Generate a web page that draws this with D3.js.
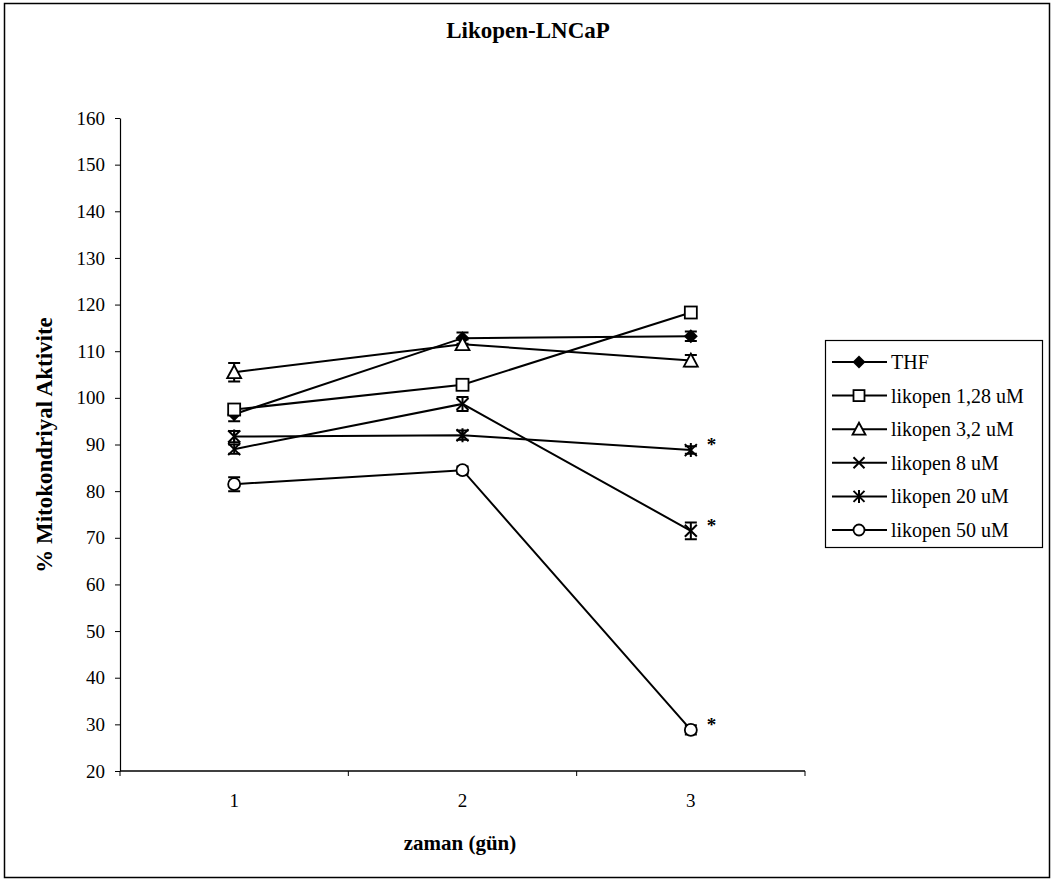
<!DOCTYPE html>
<html>
<head>
<meta charset="utf-8">
<script src="https://cdn.jsdelivr.net/npm/d3@7"></script>
<style>
  html, body { margin: 0; padding: 0; background: #fff; }
  svg { display: block; font-family: "Liberation Serif", "Times New Roman", serif; }
</style>
</head>
<body>
<svg id="chart" width="1053" height="882"></svg>
<script>
// Days on the x axis
const days = ["1", "2", "3"];
// Series names
const seriesNames = ["THF", "likopen 1,28 uM", "likopen 3,2 uM", "likopen 8 uM", "likopen 20 uM", "likopen 50 uM"];
// Mean mitochondrial activity (%) per day
const thfValues = [96.5, 112.8, 113.2];
const lik128Values = [97.5, 102.8, 118.3];
const lik32Values = [105.5, 111.5, 108.0];
const lik8Values = [89.0, 98.7, 71.5];
const lik20Values = [91.7, 92.0, 88.8];
const lik50Values = [81.5, 84.5, 28.8];
// Error (±) per day
const thfErr = [1.5, 1.2, 1.0];
const lik128Err = [1.2, 1.0, 1.2];
const lik32Err = [2.0, 1.0, 1.2];
const lik8Err = [1.0, 1.5, 1.8];
const lik20Err = [1.2, 1.0, 0.8];
const lik50Err = [1.5, 0.8, 1.0];
// Significance marks on the last day
const starSeries = ["likopen 8 uM", "likopen 20 uM", "likopen 50 uM"];
// Y axis ticks
const yTicks = [20, 30, 40, 50, 60, 70, 80, 90, 100, 110, 120, 130, 140, 150, 160];

const symbols = ["diamond", "square", "triangle", "x", "asterisk", "circle"];
const valuesList = [thfValues, lik128Values, lik32Values, lik8Values, lik20Values, lik50Values];
const errList = [thfErr, lik128Err, lik32Err, lik8Err, lik20Err, lik50Err];
const series = seriesNames.map((name, i) => ({
  name, symbol: symbols[i],
  points: days.map((d, j) => ({ day: d, v: valuesList[i][j], e: errList[i][j] }))
}));

const svg = d3.select("#chart");

// outer frame
svg.append("rect").attr("x", 4.5).attr("y", 3.5).attr("width", 1045).attr("height", 874)
  .attr("fill", "none").attr("stroke", "#000").attr("stroke-width", 1.5);

const x = d3.scaleBand().domain(days).range([120, 805]);
const y = d3.scaleLinear().domain([20, 160]).range([771, 118]);
const cx = d => x(d) + x.bandwidth() / 2;

// title
svg.append("text").attr("x", 528).attr("y", 38).attr("text-anchor", "middle")
  .attr("font-weight", "bold").attr("font-size", 23).text("Likopen-LNCaP");

// y axis
const yAxis = svg.append("g").attr("transform", "translate(120,0)")
  .call(d3.axisLeft(y).tickValues(yTicks).tickSize(5).tickPadding(10).tickSizeOuter(0))
  .attr("font-family", null).attr("font-size", null);
yAxis.select(".domain").attr("stroke-width", 1.2);
yAxis.selectAll("text").attr("font-size", 19).attr("fill", "#000")
  .style("font-family", "'Liberation Serif', 'Times New Roman', serif");

// x axis: ticks at category boundaries
const xg = svg.append("g").attr("transform", `translate(0,${y(20)})`);
xg.append("line").attr("x1", 120).attr("x2", 805).attr("stroke", "#000").attr("stroke-width", 1.5);
const bounds = [120].concat(days.map(d => x(d) + x.bandwidth()));
xg.selectAll("line.tk").data(bounds).join("line").attr("class", "tk")
  .attr("x1", d => d).attr("x2", d => d).attr("y1", 0).attr("y2", 5).attr("stroke", "#000");
xg.selectAll("text").data(days).join("text")
  .attr("x", d => cx(d)).attr("y", 36).attr("text-anchor", "middle")
  .attr("font-size", 19).text(d => d);

// axis titles
svg.append("text").attr("x", 460).attr("y", 850).attr("text-anchor", "middle")
  .attr("font-weight", "bold").attr("font-size", 21).text("zaman (gün)");
svg.append("text").attr("transform", "translate(52,445) rotate(-90)").attr("text-anchor", "middle")
  .attr("font-weight", "bold").attr("font-size", 23).text("% Mitokondriyal Aktivite");

// marker drawing
function drawMarker(g, type, s) {
  const h = s / 2;
  if (type === "diamond") {
    g.append("path").attr("d", `M0,${-h-1}L${h+1},0L0,${h+1}L${-h-1},0Z`).attr("fill", "#000");
  } else if (type === "square") {
    g.append("rect").attr("x", -h).attr("y", -h).attr("width", s).attr("height", s)
      .attr("fill", "#fff").attr("stroke", "#000").attr("stroke-width", 1.8);
  } else if (type === "triangle") {
    g.append("path").attr("d", `M0,${-h-1}L${h+1},${h}L${-h-1},${h}Z`)
      .attr("fill", "#fff").attr("stroke", "#000").attr("stroke-width", 1.8);
  } else if (type === "x") {
    g.append("path").attr("d", `M${-h},${-h}L${h},${h}M${-h},${h}L${h},${-h}`)
      .attr("stroke", "#000").attr("stroke-width", 2);
  } else if (type === "asterisk") {
    g.append("path").attr("d", `M${-h},${-h}L${h},${h}M${-h},${h}L${h},${-h}M0,${-h-1}L0,${h+1}`)
      .attr("stroke", "#000").attr("stroke-width", 2);
  } else if (type === "circle") {
    g.append("circle").attr("r", h).attr("fill", "#fff").attr("stroke", "#000").attr("stroke-width", 1.8);
  }
}

const line = d3.line().x(p => cx(p.day)).y(p => y(p.v));
const plot = svg.append("g");

series.forEach(s => {
  plot.append("path").datum(s.points).attr("d", line)
    .attr("fill", "none").attr("stroke", "#000").attr("stroke-width", 2);
});

series.forEach(s => {
  s.points.forEach(p => {
    const g = plot.append("g").attr("transform", `translate(${cx(p.day)},${y(p.v)})`);
    // error bar
    const t = y(p.v + p.e) - y(p.v), b = y(p.v - p.e) - y(p.v);
    g.append("path").attr("d", `M0,${t}L0,${b}M-6,${t}L6,${t}M-6,${b}L6,${b}`)
      .attr("stroke", "#000").attr("stroke-width", 2);
    drawMarker(g, s.symbol, 12);
  });
});

// significance stars
series.filter(s => starSeries.includes(s.name)).forEach(s => {
  const p = s.points[s.points.length - 1];
  plot.append("text").attr("x", cx(p.day) + 16).attr("y", y(p.v) + 1)
    .attr("font-size", 19).attr("font-weight", "bold").text("*");
});

// legend
const lg = svg.append("g").attr("transform", "translate(825,340)");
lg.append("rect").attr("x", 0.5).attr("y", 0.5).attr("width", 217).attr("height", 207)
  .attr("fill", "#fff").attr("stroke", "#000").attr("stroke-width", 1.2);
series.forEach((s, i) => {
  const row = lg.append("g").attr("transform", `translate(0,${22 + i * 33.6})`);
  row.append("line").attr("x1", 7).attr("x2", 62).attr("stroke", "#000").attr("stroke-width", 2);
  drawMarker(row.append("g").attr("transform", "translate(34,0)"), s.symbol, 11);
  row.append("text").attr("x", 66).attr("y", 7).attr("font-size", 20).text(s.name);
});
</script>
</body>
</html>
